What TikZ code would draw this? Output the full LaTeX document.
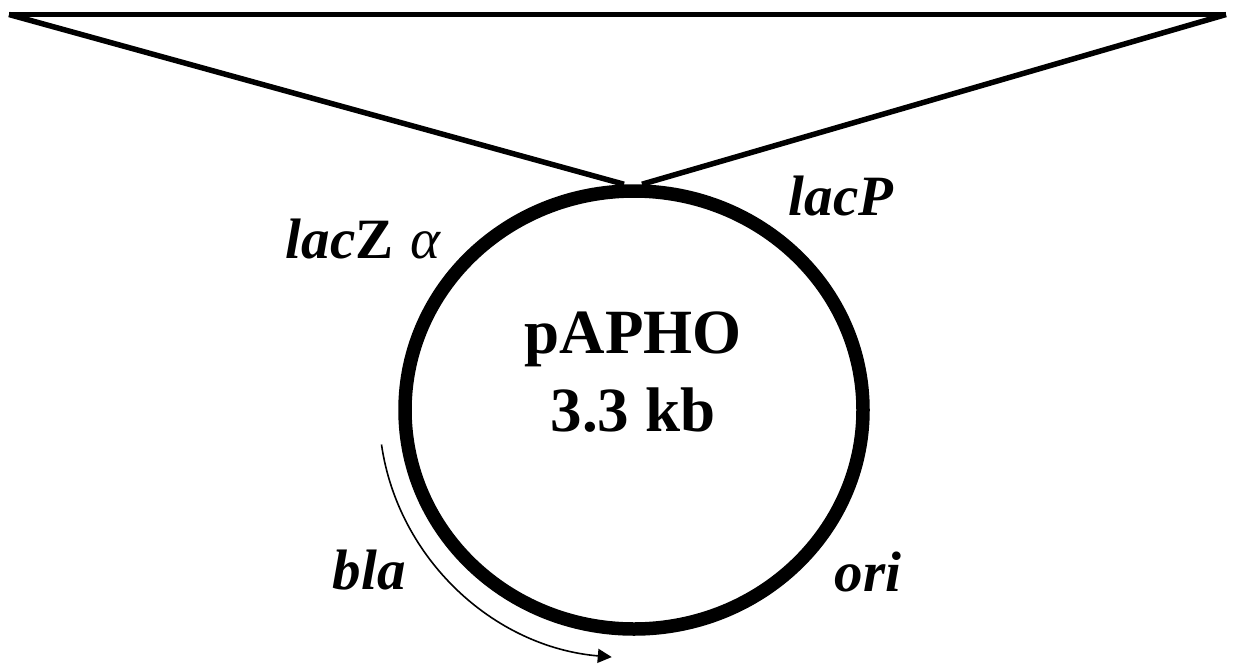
\documentclass[tikz,border=0pt]{standalone}
\usepackage{fontspec}
\setmainfont{Liberation Serif}
\usetikzlibrary{shapes.geometric,arrows.meta}

\begin{document}
\begin{tikzpicture}[x=1pt,y=-1pt,line width=5.5pt]
  \tikzstyle{gene}=[inner sep=0pt,anchor=base west,font=\fontsize{57}{64}\selectfont\bfseries\itshape]
  \tikzstyle{title}=[inner sep=0pt,anchor=base,font=\fontsize{63}{72}\selectfont\bfseries]
  \tikzstyle{ring}=[ellipse,draw,line width=13.5pt,minimum width=458pt,minimum height=438pt,inner sep=0pt]

  \useasboundingbox (0,0) rectangle (1233,665);

  \coordinate (tl) at (9,14.5);
  \coordinate (tr) at (1226,14.5);
  \node[ring] (plasmid) at (634,410) {};

  \node[title] (pname) at (633,353) {pAPHO};
  \node[title] (psize) at (633,431) {3.3 kb};

  \node[gene] (lacz) at (283,258) {lac\textup{Z}\hspace{0.3em}{\mdseries α}};
  \node[gene] (lacp) at (786,215) {lacP};
  \node[gene] (bla)  at (330,589) {bla};
  \node[gene] (ori)  at (832,591) {ori};

  \draw (tl) -- (tr);
  \draw (tl) -- ([xshift=-10pt]plasmid.north);
  \draw (tr) -- ([xshift=8pt]plasmid.north);

  % bla reading direction
  \draw[line width=1.6pt,-{Triangle[length=14pt,width=14pt]}]
    (plasmid.center) ++(172:255 and 248)
    arc[start angle=172,end angle=95,x radius=255,y radius=248];
\end{tikzpicture}
\end{document}
